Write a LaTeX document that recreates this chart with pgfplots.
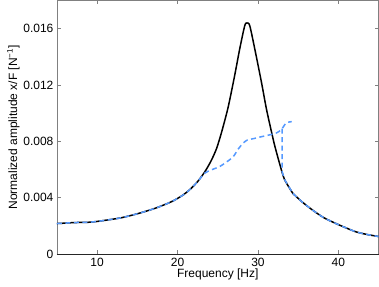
\documentclass[border=0pt]{standalone}
\usepackage{fontspec}
\setmainfont{Liberation Sans}
\usepackage{pgfplots}
\pgfplotsset{compat=1.18}
\usetikzlibrary{calc}
\definecolor{mblue}{RGB}{85,153,255}
\definecolor{axgray}{RGB}{128,128,128}
\begin{document}
\begin{tikzpicture}
\begin{axis}[
  scale only axis,
  width=322pt, height=254pt,
  xmin=5, xmax=45, ymin=0, ymax=0.018,
  xtick={10,20,30,40},
  ytick={0,0.004,0.008,0.012,0.016},
  yticklabels={0,0.004,0.008,0.012,0.016},
  scaled y ticks=false,
  /pgf/number format/assume math mode=true,
  font=\fontsize{12}{14}\selectfont,
  tick label style={font=\fontsize{12}{14}\selectfont},
  axis line style={axgray, line width=0.8pt},
  tick style={axgray, line width=0.6pt},
  major tick length=4pt,
  tick align=inside,
  xlabel={Frequency [Hz]},
  ylabel={Normalized amplitude x/F [N\textsuperscript{−1}]},
  xlabel style={yshift=4pt},
  ylabel style={yshift=-3pt},
  clip=false,
]
\coordinate (sw) at (rel axis cs:0,0);
\coordinate (ne) at (rel axis cs:1,1);
\draw[black!85, line width=0.8pt] (rel axis cs:0,0) -- (rel axis cs:1,0);
\addplot[black, line width=1.5pt, smooth, tension=0.45] coordinates {
(5,0.00217) (6,0.00220) (7.2,0.00224) (8.9,0.00226) (10,0.00232) (11,0.00240)
(13,0.00258) (15.1,0.00288) (17.2,0.00325) (19.25,0.00372) (20.7,0.00420)
(21.6,0.00462) (22.5,0.00515) (23.4,0.00585) (24.2,0.00665) (24.84,0.00748)
(25.45,0.0086) (26.28,0.0104) (27.1,0.01267) (27.73,0.01456) (28.35,0.0162)
(28.64,0.0164) (28.98,0.0162) (29.6,0.01456) (30.43,0.0122) (31.05,0.0103)
(31.67,0.0087) (32.08,0.0077) (32.7,0.0064) (33.3,0.0053) (34.35,0.0043)
};
\addplot[black, line width=1.5pt, smooth, tension=0.45] coordinates {
(34.35,0.0043) (35.5,0.0037) (36.8,0.00312) (38.2,0.00258) (39.7,0.00217)
(41,0.00185) (42.2,0.00158) (43.5,0.00140) (45,0.00125)
};
\addplot[mblue, line width=1.5pt, dash pattern=on 5pt off 3.5pt, smooth, tension=0.45] coordinates {
(5,0.00217) (6,0.00220) (7.2,0.00224) (8.9,0.00226) (10,0.00232) (11,0.00240)
(13,0.00258) (15.1,0.00288) (17.2,0.00325) (19.25,0.00372) (20.7,0.00420)
(21.6,0.00462) (22.5,0.00515) (23.4,0.00575) (24.3,0.0060) (25.2,0.0062)
(26.0,0.0065) (26.9,0.0069) (27.6,0.0075) (28.2,0.0079) (28.7,0.0081)
(29.5,0.0082) (30.2,0.0083) (31.5,0.00847) (32.3,0.0086) (32.9,0.00883)
(33.5,0.0093) (34.2,0.0094)
};
\addplot[mblue, line width=1.5pt, dash pattern=on 5pt off 3.5pt] coordinates {
(33.0,0.0089) (33.0,0.00585) (33.3,0.0053) (34.35,0.0043)
};
\addplot[mblue, line width=1.5pt, dash pattern=on 5pt off 3.5pt, smooth, tension=0.45] coordinates {
(34.35,0.0043) (35.5,0.0037) (36.8,0.00312) (38.2,0.00258) (39.7,0.00217)
(41,0.00185) (42.2,0.00158) (43.5,0.00140) (45,0.00125)
};
\end{axis}
\pgfresetboundingbox
\path[use as bounding box] ($(sw)+(-57pt,-32pt)$) rectangle ($(ne)+(0.4pt,0.4pt)$);
\end{tikzpicture}
\end{document}
